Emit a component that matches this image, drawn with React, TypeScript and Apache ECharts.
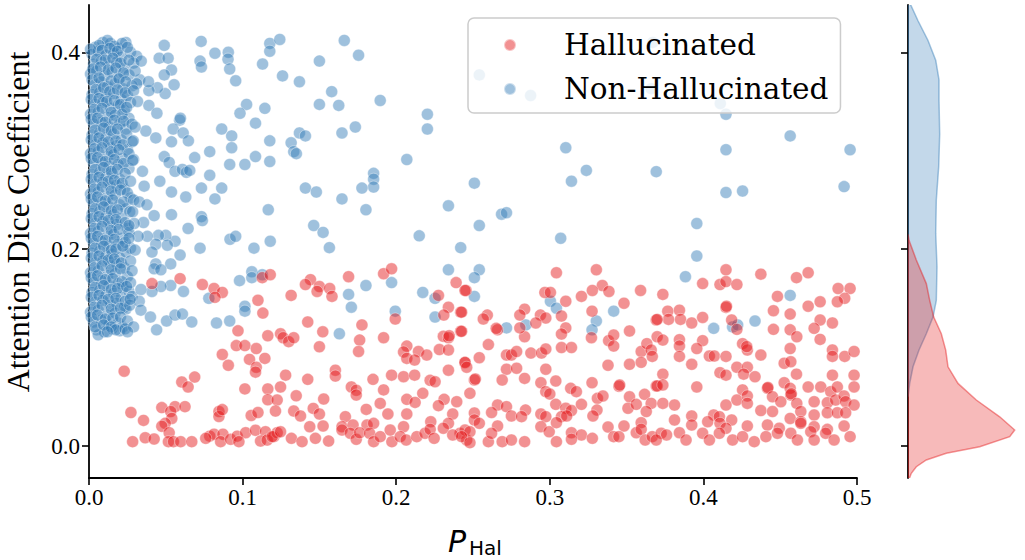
import React, { useEffect, useRef } from "react";
import * as echarts from "echarts";

type Pt = [number, number];

const xTicks = [0, 0.1, 0.2, 0.3, 0.4, 0.5];
const yTicks = [0, 0.2, 0.4];
const legendNames = ["Hallucinated", "Non-Hallucinated"];
const yLabel = "Attention Dice Coefficient";

// Non-hallucinated: dense cluster near P_Hal = 0
const nonHalDense: Pt[] = [
  [0.004,0.405],[0.009,0.41],[0.014,0.409],[0.019,0.404],[0.024,0.41],[0.012,0.412],
  [0.002,0.398],[0.006,0.401],[0.011,0.397],[0.016,0.399],[0.021,0.395],[0.027,0.4],[0.031,0.396],
  [0.003,0.388],[0.008,0.391],[0.013,0.386],[0.018,0.39],[0.023,0.384],[0.029,0.389],
  [0.001,0.378],[0.005,0.381],[0.01,0.376],[0.015,0.38],[0.02,0.374],[0.026,0.377],[0.033,0.372],
  [0.004,0.367],[0.008,0.37],[0.012,0.365],[0.017,0.368],[0.022,0.363],[0.028,0.366],
  [0.002,0.357],[0.007,0.359],[0.011,0.354],[0.016,0.358],[0.021,0.352],[0.025,0.356],
  [0.004,0.347],[0.009,0.349],[0.014,0.343],[0.019,0.346],[0.023,0.341],
  [0.001,0.337],[0.006,0.339],[0.012,0.334],[0.017,0.336],[0.026,0.333],
  [0.003,0.327],[0.008,0.329],[0.013,0.324],[0.02,0.327],[0.024,0.322],
  [0.002,0.316],[0.007,0.318],[0.011,0.313],[0.016,0.317],[0.021,0.311],
  [0.004,0.306],[0.009,0.308],[0.014,0.303],[0.018,0.305],[0.025,0.301],
  [0.001,0.297],[0.006,0.299],[0.012,0.294],[0.016,0.296],[0.022,0.292],
  [0.003,0.287],[0.008,0.289],[0.013,0.284],[0.019,0.286],[0.026,0.282],
  [0.002,0.276],[0.007,0.278],[0.011,0.273],[0.015,0.277],[0.02,0.271],
  [0.004,0.266],[0.009,0.268],[0.014,0.263],[0.018,0.265],[0.023,0.261],
  [0.001,0.256],[0.006,0.258],[0.012,0.253],[0.017,0.255],[0.027,0.252],
  [0.003,0.246],[0.008,0.248],[0.013,0.243],[0.02,0.245],[0.024,0.241],
  [0.002,0.236],[0.007,0.238],[0.011,0.233],[0.016,0.235],[0.021,0.231],
  [0.004,0.226],[0.009,0.228],[0.014,0.223],[0.018,0.225],[0.025,0.221],
  [0.001,0.216],[0.006,0.218],[0.012,0.213],[0.016,0.215],[0.022,0.211],
  [0.003,0.206],[0.008,0.208],[0.013,0.203],[0.019,0.205],[0.027,0.201],
  [0.002,0.196],[0.007,0.198],[0.011,0.193],[0.015,0.195],[0.02,0.191],[0.024,0.197],
  [0.004,0.186],[0.009,0.188],[0.014,0.183],[0.018,0.185],[0.023,0.181],
  [0.001,0.176],[0.006,0.178],[0.012,0.173],[0.017,0.175],[0.025,0.172],
  [0.003,0.166],[0.008,0.168],[0.013,0.163],[0.019,0.165],[0.022,0.161],
  [0.002,0.156],[0.007,0.158],[0.011,0.153],[0.016,0.155],[0.021,0.151],[0.026,0.157],
  [0.004,0.146],[0.009,0.148],[0.014,0.143],[0.018,0.145],[0.023,0.141],
  [0.001,0.136],[0.006,0.138],[0.012,0.133],[0.017,0.135],[0.024,0.139],
  [0.003,0.126],[0.008,0.128],[0.013,0.123],[0.019,0.125],[0.022,0.121],
  [0.005,0.118],[0.01,0.116],[0.015,0.119],[0.02,0.117],[0.006,0.113],
  [0.0065,0.407],[0.0165,0.406],[0.0215,0.409],
  [0.001,0.403],[0.0085,0.402],[0.0135,0.404],[0.0185,0.401],[0.025,0.405],
  [0.005,0.393],[0.0105,0.392],[0.0155,0.394],[0.0205,0.389],[0.026,0.392],[0.034,0.391],
  [0.0025,0.383],[0.0075,0.385],[0.0125,0.382],[0.0175,0.384],[0.0225,0.379],[0.03,0.381],
  [0.002,0.372],[0.0065,0.374],[0.0145,0.371],[0.0195,0.373],[0.024,0.37],[0.031,0.368],
  [0.0045,0.362],[0.0095,0.364],[0.0135,0.36],[0.0185,0.362],[0.0235,0.359],[0.029,0.361],
  [0.0015,0.352],[0.0065,0.353],[0.0115,0.35],[0.0165,0.351],[0.0205,0.347],[0.027,0.349],
  [0.0035,0.342],[0.0085,0.343],[0.0145,0.339],[0.0215,0.337],[0.0245,0.344],
  [0.0015,0.332],[0.0055,0.333],[0.0105,0.329],[0.0165,0.331],[0.0225,0.33],[0.028,0.327],
  [0.004,0.321],[0.0095,0.323],[0.0145,0.32],[0.0185,0.322],[0.0245,0.317],
  [0.0015,0.311],[0.0065,0.313],[0.0125,0.309],[0.0175,0.31],[0.022,0.306],[0.028,0.309],
  [0.0035,0.302],[0.0085,0.303],[0.0145,0.299],[0.0195,0.301],[0.026,0.297],
  [0.0015,0.292],[0.0055,0.293],[0.0105,0.289],[0.0165,0.291],[0.0225,0.287],[0.029,0.291],
  [0.004,0.281],[0.0095,0.283],[0.0145,0.279],[0.0185,0.281],[0.0235,0.277],
  [0.0015,0.271],[0.0065,0.273],[0.0125,0.269],[0.0165,0.27],[0.0215,0.267],[0.027,0.269],
  [0.0035,0.261],[0.0085,0.263],[0.0145,0.259],[0.0205,0.26],[0.025,0.257],
  [0.0015,0.251],[0.0055,0.253],[0.0105,0.249],[0.0155,0.25],[0.0225,0.248],[0.029,0.25],
  [0.004,0.241],[0.0095,0.243],[0.0145,0.239],[0.0185,0.24],[0.0265,0.238],
  [0.0015,0.231],[0.0065,0.233],[0.0125,0.229],[0.0175,0.23],[0.0235,0.227],
  [0.0035,0.221],[0.0085,0.223],[0.0145,0.219],[0.0195,0.22],[0.026,0.217],
  [0.0015,0.211],[0.0055,0.213],[0.0105,0.209],[0.0165,0.21],[0.0235,0.207],
  [0.004,0.201],[0.0095,0.203],[0.0145,0.199],[0.0175,0.2],[0.022,0.203],[0.03,0.199],
  [0.0015,0.191],[0.0065,0.193],[0.0125,0.189],[0.0165,0.19],[0.021,0.186],[0.027,0.188],
  [0.0035,0.181],[0.0085,0.183],[0.0145,0.179],[0.0205,0.18],[0.028,0.178],
  [0.0015,0.171],[0.0055,0.173],[0.0105,0.169],[0.0155,0.17],[0.0215,0.167],[0.027,0.166],
  [0.004,0.161],[0.0095,0.163],[0.0145,0.159],[0.0185,0.16],[0.0245,0.162],
  [0.0015,0.151],[0.0065,0.153],[0.0125,0.149],[0.0175,0.15],[0.0235,0.147],[0.028,0.152],
  [0.0035,0.141],[0.0085,0.143],[0.0145,0.139],[0.0205,0.14],[0.0265,0.143],
  [0.0015,0.131],[0.0055,0.133],[0.0105,0.129],[0.0155,0.13],[0.0205,0.131],[0.025,0.127],
  [0.004,0.121],[0.0095,0.123],[0.0145,0.121],[0.0175,0.118],[0.0235,0.119],[0.012,0.116],
];

// Non-hallucinated: spread points
const nonHalSpread: Pt[] = [
  [0.049,0.407],[0.073,0.411],[0.082,0.399],[0.0907,0.4],[0.0905,0.393],[0.0916,0.383],[0.0955,0.371],
  [0.0723,0.391],[0.0732,0.385],[0.113,0.388],[0.1177,0.409],[0.1177,0.401],[0.0457,0.394],[0.0515,0.394],
  [0.0537,0.382],[0.049,0.377],[0.0554,0.367],[0.0496,0.358],[0.0446,0.364],[0.039,0.361],[0.0387,0.37],
  [0.0316,0.35],[0.039,0.346],[0.0442,0.338],[0.059,0.331],[0.0595,0.333],[0.0548,0.322],[0.0613,0.318],
  [0.0647,0.31],[0.0537,0.309],[0.0435,0.313],[0.037,0.32],[0.03,0.324],[0.0288,0.31],[0.0864,0.322],
  [0.0929,0.315],[0.0929,0.303],[0.1026,0.347],[0.0983,0.338],[0.1084,0.328],[0.1145,0.343],[0.1177,0.31],
  [0.1177,0.289],[0.1084,0.294],[0.1015,0.286],[0.0916,0.286],[0.0786,0.299],[0.0688,0.293],[0.049,0.294],
  [0.0522,0.288],[0.056,0.279],[0.0608,0.281],[0.0634,0.278],[0.0656,0.28],[0.0786,0.275],[0.0461,0.269],
  [0.0348,0.279],[0.0284,0.29],[0.0359,0.264],[0.0537,0.258],[0.0732,0.262],[0.0864,0.262],[0.063,0.253],
  [0.082,0.251],[0.0732,0.233],[0.0738,0.229],[0.0537,0.235],[0.0424,0.234],[0.0327,0.248],[0.0377,0.245],
  [0.0284,0.238],[0.0355,0.227],[0.0294,0.226],[0.026,0.224],[0.0645,0.221],[0.1167,0.24],[0.0918,0.21],
  [0.0955,0.213],[0.118,0.208],[0.1074,0.201],[0.0723,0.201],[0.056,0.208],[0.05,0.214],[0.0452,0.214],
  [0.038,0.213],[0.032,0.213],[0.0435,0.205],[0.051,0.204],[0.026,0.211],
  [0.0593,0.194],[0.0532,0.185],[0.041,0.197],[0.0435,0.185],[0.0424,0.18],[0.0468,0.179],[0.098,0.168],
  [0.106,0.177],[0.106,0.171],[0.1128,0.174],[0.0532,0.163],[0.0468,0.162],[0.041,0.157],[0.0338,0.159],
  [0.0615,0.157],[0.0327,0.147],[0.0338,0.138],[0.0268,0.149],[0.04,0.131],[0.0505,0.127],[0.056,0.133],
  [0.0608,0.134],[0.0669,0.126],[0.044,0.118],[0.078,0.15],[0.083,0.125],[0.0916,0.127],[0.1015,0.142],
  [0.1015,0.137],[0.029,0.121],[0.0251,0.116],
  [0.1242,0.413],[0.1662,0.412],[0.1755,0.397],[0.15,0.391],[0.126,0.376],[0.137,0.37],[0.158,0.36],
  [0.15,0.347],[0.1626,0.346],[0.1896,0.351],[0.2203,0.337],[0.2203,0.322],[0.137,0.318],[0.1409,0.315],
  [0.1647,0.318],[0.1734,0.324],[0.1316,0.308],[0.1333,0.299],[0.135,0.297],[0.2069,0.291],[0.1853,0.277],
  [0.1853,0.271],[0.1853,0.263],[0.1777,0.262],[0.1409,0.262],[0.148,0.258],[0.1647,0.251],[0.1803,0.24],
  [0.234,0.244],[0.1463,0.224],[0.1524,0.217],[0.215,0.2135],[0.1565,0.2015],[0.242,0.2015],
  [0.234,0.179],[0.1803,0.163],[0.169,0.154],[0.1708,0.141],[0.197,0.166],[0.1994,0.137],[0.2173,0.156],
  [0.2253,0.15],[0.2253,0.131],[0.163,0.114],
  [0.2541,0.179],[0.2509,0.171],[0.2509,0.152],[0.3004,0.147],[0.3043,0.14],[0.2718,0.12],[0.2844,0.123],
  [0.3416,0.137],[0.3303,0.127],[0.3275,0.118],
  [0.3104,0.303],[0.3238,0.28],[0.3141,0.269],[0.2509,0.267],[0.2686,0.2355],[0.2718,0.237],[0.2541,0.224],
  [0.3071,0.211],[0.3693,0.2787],
  [0.2541,0.377],[0.2875,0.356],[0.367,0.41],[0.366,0.363],[0.411,0.348],
  [0.4147,0.337],[0.4565,0.315],[0.4147,0.301],[0.4955,0.301],[0.4147,0.2575],[0.4255,0.259],[0.4916,0.2635],
  [0.3957,0.226],
  [0.3957,0.193],[0.3883,0.172],[0.4565,0.153],[0.4336,0.127],[0.4067,0.1195],[0.419,0.121],[0.4223,0.123],
];

const hallucinated: Pt[] = [
  [0.0593,0.17],[0.041,0.165],[0.0738,0.164],[0.0814,0.16],[0.0868,0.156],[0.082,0.151],[0.1128,0.171],
  [0.118,0.174],[0.11,0.148],[0.1132,0.135],[0.097,0.117],[0.1164,0.112],[0.0959,0.102],[0.1015,0.102],
  [0.1089,0.099],[0.0868,0.093],[0.1145,0.089],[0.1045,0.088],[0.0907,0.082],[0.1089,0.08],[0.1084,0.075],
  [0.0229,0.076],[0.0688,0.07],[0.0604,0.065],[0.0645,0.06],[0.1015,0.058],[0.1164,0.058],[0.0474,0.039],
  [0.056,0.04],[0.0625,0.04],[0.0532,0.035],[0.0539,0.028],[0.0496,0.023],[0.0273,0.034],[0.0355,0.026],
  [0.0474,0.02],[0.0522,0.0135],[0.0284,0.0044],[0.0366,0.0084],[0.0424,0.0071],[0.0517,0.0044],
  [0.055,0.0044],[0.0597,0.0044],[0.0669,0.0044],[0.0846,0.035],[0.0846,0.03],[0.0868,0.037],[0.1056,0.031],
  [0.11,0.034],[0.1164,0.047],[0.0786,0.01],[0.0814,0.012],[0.0872,0.012],[0.0857,0.0044],[0.0922,0.0068],
  [0.0965,0.01],[0.102,0.0135],[0.0976,0.0044],[0.1084,0.016],[0.1149,0.0145],[0.1117,0.005],[0.116,0.006],
  [0.1203,0.0095],[0.076,0.0078],
  [0.1918,0.175],[0.197,0.18],[0.169,0.172],[0.1442,0.169],[0.1409,0.164],[0.15,0.162],[0.1485,0.157],
  [0.1567,0.16],[0.1582,0.152],[0.1316,0.153],[0.2275,0.153],[0.234,0.141],[0.231,0.133],[0.239,0.166],
  [0.2455,0.158],[0.242,0.136],[0.1994,0.129],[0.1424,0.126],[0.1777,0.123],[0.1522,0.116],[0.1247,0.114],
  [0.1264,0.11],[0.13,0.106],[0.1333,0.11],[0.1762,0.1076],[0.1918,0.11],[0.15,0.1008],[0.1755,0.096],
  [0.2069,0.1015],[0.2048,0.0955],[0.2145,0.096],[0.2199,0.0924],[0.2069,0.089],[0.212,0.0873],
  [0.2307,0.1114],[0.234,0.11],[0.2345,0.112],[0.2281,0.098],[0.234,0.0975],[0.242,0.1165],[0.2448,0.0846],
  [0.234,0.077],[0.1604,0.077],[0.1604,0.071],[0.128,0.072],[0.1424,0.0677],[0.1849,0.0677],[0.197,0.072],
  [0.2048,0.0704],[0.212,0.072],[0.2221,0.0667],[0.2253,0.0653],[0.1247,0.06],[0.1708,0.06],[0.174,0.0566],
  [0.174,0.0517],[0.1918,0.057],[0.2173,0.0535],[0.1225,0.0467],[0.1349,0.051],[0.1528,0.0477],
  [0.1896,0.0433],[0.2069,0.0474],[0.2123,0.0443],[0.2312,0.0474],[0.2275,0.041],[0.2394,0.045],
  [0.1214,0.0355],[0.1333,0.0355],[0.1377,0.0305],[0.146,0.0382],[0.15,0.0325],[0.1805,0.0372],
  [0.1946,0.0325],[0.2069,0.0325],[0.2368,0.0325],[0.1437,0.0196],[0.1524,0.0203],[0.1669,0.0298],
  [0.1647,0.0196],[0.1719,0.0213],[0.181,0.0213],[0.1853,0.023],[0.2048,0.0196],[0.2225,0.0247],
  [0.234,0.023],[0.2416,0.0129],[0.1225,0.0135],[0.1318,0.0078],[0.1387,0.0044],[0.1474,0.0078],
  [0.156,0.005],[0.1647,0.0162],[0.1701,0.0129],[0.174,0.0068],[0.1762,0.0135],[0.1827,0.0129],
  [0.1853,0.0044],[0.1896,0.0095],[0.1972,0.0044],[0.1961,0.0162],[0.2026,0.0095],[0.2065,0.0061],
  [0.2134,0.0095],[0.2188,0.0129],[0.2221,0.0169],[0.2247,0.0078],[0.2307,0.018],[0.2368,0.0112],
  [0.2459,0.0061],[0.1193,0.0095],[0.1247,0.0145],
  [0.3043,0.176],[0.3303,0.179],[0.3342,0.163],[0.3385,0.157],[0.3591,0.158],[0.3277,0.158],[0.3206,0.152],
  [0.2968,0.156],[0.3004,0.156],[0.3104,0.147],[0.3483,0.145],[0.3275,0.137],[0.2448,0.158],[0.2426,0.136],
  [0.2593,0.133],[0.2567,0.129],[0.2836,0.139],[0.2805,0.133],[0.2939,0.133],[0.2974,0.13],[0.2909,0.125],
  [0.3076,0.132],[0.3104,0.12],[0.3076,0.1137],[0.2836,0.111],[0.2805,0.12],[0.266,0.118],[0.2651,0.1195],
  [0.2426,0.1165],[0.26,0.103],[0.3076,0.1],[0.3141,0.1],[0.3271,0.11],[0.3383,0.107],[0.3416,0.1127],
  [0.3416,0.1015],[0.3519,0.1168],[0.3595,0.096],[0.3632,0.104],[0.366,0.0975],[0.3693,0.128],
  [0.2718,0.0924],[0.275,0.0924],[0.2784,0.096],[0.2877,0.0944],[0.2946,0.0944],[0.2974,0.0985],
  [0.2541,0.0897],[0.2448,0.085],[0.2459,0.08],[0.2718,0.078],[0.2784,0.079],[0.2974,0.078],[0.3379,0.082],
  [0.3519,0.083],[0.3595,0.085],[0.3667,0.091],[0.2509,0.067],[0.2515,0.068],[0.269,0.067],[0.2836,0.0687],
  [0.2942,0.0643],[0.3039,0.066],[0.3275,0.0643],[0.345,0.0607],[0.3455,0.062],[0.3693,0.061],[0.248,0.0535],
  [0.2974,0.0552],[0.3,0.0528],[0.3136,0.0586],[0.3173,0.0552],[0.331,0.0484],[0.3346,0.0508],
  [0.3519,0.05],[0.3617,0.0525],[0.266,0.0416],[0.2718,0.04],[0.2842,0.0365],[0.3039,0.0423],
  [0.3104,0.0383],[0.3141,0.036],[0.3206,0.0423],[0.3307,0.0365],[0.3509,0.0383],[0.3563,0.0423],
  [0.366,0.0433],[0.3628,0.035],[0.2621,0.034],[0.275,0.0305],[0.2816,0.0298],[0.2509,0.0335],
  [0.2509,0.0264],[0.2541,0.023],[0.2942,0.0325],[0.2974,0.0298],[0.3076,0.0298],[0.311,0.0305],
  [0.3281,0.0305],[0.3379,0.0193],[0.3483,0.0203],[0.3595,0.0237],[0.2448,0.0162],[0.248,0.0145],
  [0.266,0.0203],[0.2942,0.0196],[0.2996,0.0145],[0.3043,0.0237],[0.3141,0.0135],[0.3206,0.0112],
  [0.2426,0.0095],[0.248,0.0034],[0.26,0.0044],[0.2621,0.0129],[0.269,0.0044],[0.275,0.0061],
  [0.2836,0.0044],[0.3043,0.0044],[0.3141,0.0068],[0.3277,0.0078],[0.3416,0.0095],[0.345,0.0095],
  [0.3563,0.0135],[0.3595,0.0169],[0.3621,0.0061],[0.3667,0.0095],
  [0.4147,0.179],[0.3995,0.165],[0.4108,0.164],[0.4147,0.167],[0.4218,0.164],[0.4374,0.1746],[0.4606,0.171],
  [0.4682,0.176],[0.3736,0.154],[0.4482,0.152],[0.4147,0.1408],[0.415,0.142],[0.4877,0.16],[0.4955,0.16],
  [0.492,0.15],[0.4872,0.1465],[0.476,0.1465],[0.4682,0.142],[0.4456,0.1374],[0.4565,0.134],[0.3768,0.137],
  [0.3844,0.138],[0.3773,0.1286],[0.3851,0.1286],[0.3699,0.1286],[0.3924,0.125],[0.3995,0.1306],
  [0.4184,0.128],[0.4218,0.1185],[0.4456,0.1185],[0.4565,0.118],[0.476,0.128],[0.484,0.125],[0.4721,0.1195],
  [0.476,0.1083],[0.4608,0.111],[0.3699,0.111],[0.3736,0.1076],[0.3844,0.108],[0.3844,0.1015],
  [0.3995,0.107],[0.3957,0.099],[0.4255,0.104],[0.4286,0.0975],[0.4282,0.101],[0.3844,0.091],[0.4039,0.0914],
  [0.4071,0.0914],[0.4147,0.091],[0.4374,0.0924],[0.4565,0.099],[0.484,0.0975],[0.484,0.091],[0.492,0.091],
  [0.4981,0.096],[0.3924,0.083],[0.4218,0.08],[0.4286,0.08],[0.4526,0.084],[0.4569,0.0856],[0.4108,0.0745],
  [0.4147,0.072],[0.4262,0.073],[0.4336,0.0704],[0.4606,0.073],[0.484,0.072],[0.4981,0.072],[0.3736,0.073],
  [0.3699,0.061],[0.3736,0.062],[0.3957,0.06],[0.4255,0.057],[0.4417,0.0586],[0.442,0.0595],[0.4526,0.0643],
  [0.4565,0.0586],[0.4569,0.0517],[0.4572,0.053],[0.4682,0.06],[0.4764,0.06],[0.4829,0.0552],[0.4872,0.06],
  [0.4981,0.06],[0.4218,0.0467],[0.4286,0.0508],[0.4286,0.0433],[0.445,0.05],[0.4504,0.045],[0.4608,0.0433],
  [0.4634,0.035],[0.4721,0.045],[0.4807,0.044],[0.4861,0.0467],[0.4916,0.0508],[0.4926,0.045],
  [0.4981,0.0416],[0.4147,0.0416],[0.3736,0.0433],[0.3812,0.0416],[0.4374,0.036],[0.445,0.035],
  [0.4565,0.028],[0.4634,0.0247],[0.4721,0.0315],[0.4807,0.0338],[0.4872,0.0338],[0.4926,0.0338],
  [0.4067,0.0315],[0.4104,0.0298],[0.4184,0.0264],[0.3924,0.0305],[0.3812,0.0264],[0.3924,0.0213],
  [0.4028,0.0247],[0.4108,0.023],[0.4147,0.018],[0.4286,0.0203],[0.4417,0.0213],[0.4494,0.018],
  [0.4634,0.023],[0.4721,0.0196],[0.4807,0.0169],[0.4916,0.0203],[0.3725,0.0129],[0.376,0.0112],
  [0.3844,0.0135],[0.3887,0.0061],[0.3995,0.0129],[0.4039,0.0061],[0.4104,0.0129],[0.419,0.0061],
  [0.4255,0.0095],[0.4331,0.0044],[0.4407,0.0095],[0.4482,0.0129],[0.4569,0.0129],[0.4612,0.0061],
  [0.4699,0.0145],[0.4721,0.0061],[0.4796,0.0129],[0.4851,0.0061],[0.4955,0.0095],[0.3693,0.0061],
];

// Marginal KDE curves: [density, y]
const kdeNonHal: Pt[] = [
  [0.1,0.455],[0.23,0.449],[1.0,0.432],[2.0,0.412],[2.77,0.392],[3.1,0.372],[3.1,0.351],[3.17,0.317],
  [3.07,0.284],[2.83,0.25],[2.77,0.216],[2.9,0.182],[2.83,0.148],[2.5,0.131],[1.83,0.114],[1.1,0.0975],
  [0.5,0.0805],[0.17,0.0636],[0.0,0.05],
];
const kdeHal: Pt[] = [
  [0.0,0.215],[0.1,0.209],[0.83,0.189],[1.83,0.165],[2.17,0.148],[2.57,0.131],[3.33,0.114],[3.77,0.0975],
  [4.0,0.0805],[5.0,0.0636],[6.83,0.0467],[9.17,0.0297],[10.67,0.0162],[10.17,0.0095],[7.17,-0.0007],
  [3.83,-0.0074],[1.83,-0.0142],[0.83,-0.021],[0.33,-0.0277],[0.15,-0.0325],
];

const SERIF = "'Liberation Serif', 'Times New Roman', serif";

function kdeSeries(data: Pt[], fill: string, stroke: string) {
  return {
    type: "custom",
    xAxisIndex: 1,
    yAxisIndex: 1,
    data,
    clip: true,
    silent: true,
    encode: { x: 0, y: 1 },
    renderItem: (params: any, api: any) => {
      if (params.dataIndex !== 0) return { type: "group", children: [] };
      const pts = data.map((p) => api.coord(p));
      pts.unshift(api.coord([0, data[0][1]]));
      pts.push(api.coord([0, data[data.length - 1][1]]));
      return {
        type: "polygon",
        shape: { points: pts },
        style: { fill, stroke, lineWidth: 1.5 },
      };
    },
  };
}

export default function App() {
  const ref = useRef<HTMLDivElement>(null);
  useEffect(() => {
    if (!ref.current) return;
    const chart = echarts.init(ref.current, undefined, { renderer: "svg" });
    const axisLine = { show: true, onZero: false, lineStyle: { color: "#000", width: 1.8 } };
    const axisTick = (vals: number[]) => ({
      show: true,
      length: 7,
      customValues: vals,
      lineStyle: { color: "#000", width: 1.6 },
    });
    chart.setOption({
      animation: false,
      grid: [
        { left: 89, top: 5, width: 768, height: 473 },
        { left: 908, top: 5, width: 112, height: 473 },
      ],
      xAxis: [
        {
          type: "value",
          gridIndex: 0,
          min: 0,
          max: 0.5,
          axisLine,
          axisTick: axisTick(xTicks),
          axisLabel: {
            customValues: xTicks,
            formatter: (v: number) => v.toFixed(1),
            fontFamily: SERIF,
            fontSize: 23,
            color: "#000",
            margin: 8,
          },
          splitLine: { show: false },
        },
        { type: "value", gridIndex: 1, min: 0, max: 11.2, show: false },
      ],
      yAxis: [
        {
          type: "value",
          gridIndex: 0,
          min: -0.0325,
          max: 0.448,
          axisLine,
          axisTick: axisTick(yTicks),
          axisLabel: {
            customValues: yTicks,
            formatter: (v: number) => v.toFixed(1),
            fontFamily: SERIF,
            fontSize: 23,
            color: "#000",
            margin: 9,
          },
          splitLine: { show: false },
        },
        {
          type: "value",
          gridIndex: 1,
          min: -0.0325,
          max: 0.448,
          axisLine,
          axisTick: axisTick(yTicks),
          axisLabel: { show: false, customValues: yTicks },
          splitLine: { show: false },
        },
      ],
      legend: {
        data: legendNames,
        orient: "vertical",
        left: 468,
        top: 18,
        icon: "circle",
        itemWidth: 12,
        itemHeight: 12,
        itemGap: 12,
        padding: [11, 12, 8, 35],
        backgroundColor: "rgba(255,255,255,0.8)",
        borderColor: "#cccccc",
        borderWidth: 1.5,
        borderRadius: 6,
        textStyle: {
          fontFamily: "'DejaVu Serif', serif",
          fontSize: 29.5,
          lineHeight: 32,
          color: "#000",
          padding: [0, 0, 0, 43],
        },
      },
      series: [
        {
          type: "scatter",
          name: "Non-Hallucinated",
          data: [...nonHalDense, ...nonHalSpread],
          symbolSize: 12,
          itemStyle: {
            color: "rgba(55,126,184,0.6)",
            borderColor: "rgba(255,255,255,0.6)",
            borderWidth: 0.8,
          },
        },
        {
          type: "scatter",
          name: "Hallucinated",
          data: hallucinated,
          symbolSize: 12,
          itemStyle: {
            color: "rgba(228,26,28,0.6)",
            borderColor: "rgba(255,255,255,0.6)",
            borderWidth: 0.8,
          },
        },
        kdeSeries(kdeNonHal, "rgba(55,126,184,0.3)", "rgba(55,126,184,0.45)"),
        kdeSeries(kdeHal, "rgba(228,26,28,0.3)", "rgba(228,26,28,0.45)"),
      ],
      graphic: [
        {
          type: "text",
          x: 18,
          y: 222,
          rotation: Math.PI / 2,
          style: {
            text: yLabel,
            fontFamily: SERIF,
            fontSize: 32,
            fill: "#000",
            align: "center",
            verticalAlign: "middle",
          },
        },
        {
          type: "text",
          x: 457,
          y: 541,
          style: {
            text: "P",
            fontFamily: "'DejaVu Sans', sans-serif",
            fontStyle: "italic",
            fontSize: 30,
            fill: "#000",
            align: "center",
            verticalAlign: "middle",
          },
        },
        {
          type: "text",
          x: 469,
          y: 548,
          style: {
            text: "Hal",
            fontFamily: "'DejaVu Sans', sans-serif",
            fontSize: 20,
            fill: "#000",
            align: "left",
            verticalAlign: "middle",
          },
        },
      ],
    });
    return () => chart.dispose();
  }, []);
  return (
    <div
      ref={ref}
      style={{ position: "fixed", left: 0, top: 0, width: 1025, height: 560, background: "#fff" }}
    />
  );
}
